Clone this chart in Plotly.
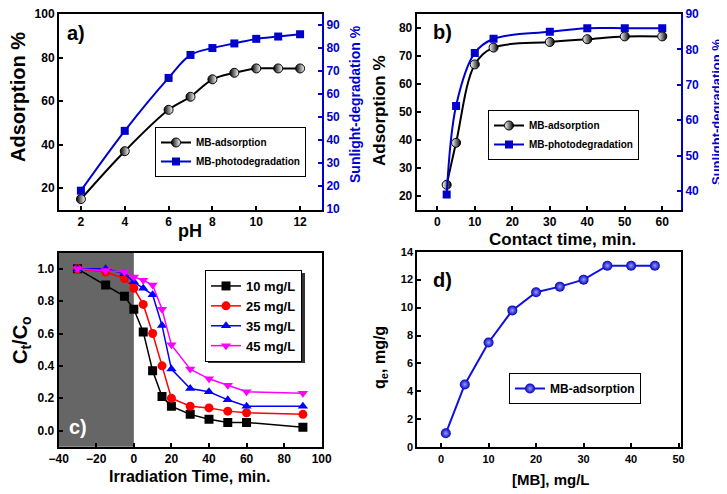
import plotly.graph_objects as go

# ---------- data ----------
ph = [2, 4, 6, 7, 8, 9, 10, 11, 12]
ph_adsorption = [15, 37, 56, 62, 70, 73, 75, 75, 75]
ph_photodeg = [18, 44, 67, 77, 80, 82, 84, 85, 86]

contact_time = [2.5, 5, 10, 15, 30, 40, 50, 60]
time_adsorption = [24, 39, 67, 73, 75, 76, 77, 77]
time_photodeg = [39, 64, 79, 83, 85, 86, 86, 86]

irr_time = [-30, -15, -5, 0, 5, 10, 15, 20, 30, 40, 50, 60, 90]
c_series_names = ["10 mg/L", "25 mg/L", "35 mg/L", "45 mg/L"]
c_10 = [1.0, 0.90, 0.83, 0.75, 0.61, 0.37, 0.21, 0.15, 0.10, 0.07, 0.05, 0.05, 0.02]
c_25 = [1.0, 0.98, 0.94, 0.88, 0.78, 0.60, 0.40, 0.20, 0.15, 0.14, 0.12, 0.11, 0.10]
c_35 = [1.0, 1.0, 0.97, 0.92, 0.88, 0.84, 0.65, 0.38, 0.26, 0.24, 0.19, 0.15, 0.15]
c_45 = [1.0, 0.99, 0.98, 0.95, 0.93, 0.90, 0.75, 0.53, 0.38, 0.32, 0.28, 0.24, 0.23]

mb_conc = [1, 5, 10, 15, 20, 25, 30, 35, 40, 45]
qe = [1.0, 4.5, 7.5, 9.8, 11.1, 11.5, 12.0, 13.0, 13.0, 13.0]

# ---------- styling ----------
# the page adds an 8 px body margin; the figure is sized so it ends at the window edge
OX, OY = 8, 8
W, H = 727 - OX, 494 - OY
BLUE = "#0000CC"
FONT = "Liberation Sans, Arial, sans-serif"

def px(x):
    return (x - OX) / W

def py(y):
    return 1 - (y - OY) / H

fig = go.Figure()

# Panel a
fig.add_trace(go.Scatter(x=ph, y=ph_adsorption, name="MB-adsorption", mode="lines+markers",
    line=dict(color="black", width=2, shape="spline"),
    marker=dict(symbol="circle", size=9, color="black", line=dict(color="black", width=1),
                gradient=dict(type="horizontal", color="white")),
    xaxis="x", yaxis="y", legend="legend"))
fig.add_trace(go.Scatter(x=ph, y=ph_photodeg, name="MB-photodegradation", mode="lines+markers",
    line=dict(color=BLUE, width=2, shape="spline"),
    marker=dict(symbol="square", size=8, color=BLUE),
    xaxis="x", yaxis="y2", legend="legend"))

# Panel b
fig.add_trace(go.Scatter(x=contact_time, y=time_adsorption, name="MB-adsorption", mode="lines+markers",
    line=dict(color="black", width=2, shape="spline"),
    marker=dict(symbol="circle", size=9, color="white", line=dict(color="black", width=1),
                gradient=dict(type="horizontal", color="black")),
    xaxis="x2", yaxis="y3", legend="legend2"))
fig.add_trace(go.Scatter(x=contact_time, y=time_photodeg, name="MB-photodegradation", mode="lines+markers",
    line=dict(color=BLUE, width=2, shape="spline"),
    marker=dict(symbol="square", size=8, color=BLUE),
    xaxis="x2", yaxis="y4", legend="legend2"))

# Panel c
c_data = [c_10, c_25, c_35, c_45]
c_colors = ["black", "#FF0000", "#0000FF", "#FF00FF"]
c_symbols = ["square", "circle", "triangle-up", "triangle-down"]
for nm, yy, col, sym in zip(c_series_names, c_data, c_colors, c_symbols):
    fig.add_trace(go.Scatter(x=irr_time, y=yy, name=nm, mode="lines+markers",
        line=dict(color=col, width=1.5),
        marker=dict(symbol=sym, size=9, color=col),
        xaxis="x3", yaxis="y5", legend="legend3"))

# Panel d
fig.add_trace(go.Scatter(x=mb_conc, y=qe, name="MB-adsorption", mode="lines+markers",
    line=dict(color="#1111DD", width=2),
    marker=dict(symbol="circle", size=10, color="#0000BB",
                gradient=dict(type="radial", color="#9999FF")),
    xaxis="x4", yaxis="y6", legend="legend4"))

# ---------- axes ----------
tickfont = dict(family=FONT, size=12, color="black", weight="bold")
base_ax = dict(showgrid=False, zeroline=False, showline=True, linecolor="black", linewidth=2,
               ticks="inside", ticklen=4, tickwidth=1.5, tickcolor="black", tickfont=tickfont,
               automargin=False, ticklabeloverflow="allow")

top_dom = [py(210), py(14)]
dom_a_x = [px(59), px(322)]
dom_b_x = [px(416.7), px(681)]
dom_c_x = [px(58.7), px(321.7)]
dom_d_x = [px(417.3), px(681)]
dom_c_y = [py(446.7), py(252.7)]
dom_d_y = [py(447.3), py(251.7)]

fig.update_layout(
    xaxis=dict(base_ax, domain=dom_a_x, anchor="y", range=[1, 13], dtick=2, tick0=0, mirror=True),
    yaxis=dict(base_ax, domain=top_dom, anchor="x", range=[10, 100], dtick=20, tick0=0, mirror=False),
    yaxis2=dict(base_ax, overlaying="y", side="right", anchor="x", range=[9.6, 94.8], dtick=10, tick0=0,
                linecolor=BLUE, tickcolor=BLUE, tickfont=dict(tickfont, color=BLUE)),
    xaxis2=dict(base_ax, domain=dom_b_x, anchor="y3", range=[-5.5, 65], dtick=10, tick0=0, mirror=True),
    yaxis3=dict(base_ax, domain=top_dom, anchor="x2", range=[15, 85], dtick=10, tick0=0, mirror=False),
    yaxis4=dict(base_ax, overlaying="y3", side="right", anchor="x2", range=[34.6, 90], dtick=10, tick0=0,
                linecolor=BLUE, tickcolor=BLUE, tickfont=dict(tickfont, color=BLUE)),
    xaxis3=dict(base_ax, domain=dom_c_x, anchor="y5", range=[-40, 100], dtick=20, tick0=0, mirror=True),
    yaxis5=dict(base_ax, domain=dom_c_y, anchor="x3", range=[-0.1, 1.1], dtick=0.2, tick0=0,
                tickformat=".1f", mirror=True),
    xaxis4=dict(base_ax, domain=dom_d_x, anchor="y6", range=[-5, 50.5], dtick=10, tick0=0, mirror=True,
                tickfont=dict(tickfont, size=11)),
    yaxis6=dict(base_ax, domain=dom_d_y, anchor="x4", range=[0, 14], dtick=2, tick0=0, mirror=True,
                tickfont=dict(tickfont, size=11)),
)

# ---------- legends (box in reference pixels: left, top, width, height, font size) ----------
legend_boxes = {
    "legend": (155, 127, 148, 43, 10),
    "legend2": (488, 110, 148, 43, 10),
    "legend3": (205, 270, 97, 90, 13),
    "legend4": (509, 373, 129, 26, 12),
}

shapes = []
for key, (lx, ly, lw, lh, fs) in legend_boxes.items():
    fig.update_layout({key: dict(x=px(lx), y=py(ly), xanchor="left", yanchor="top", bgcolor="white",
                                 bordercolor="black", borderwidth=1,
                                 font=dict(family=FONT, size=fs, color="black", weight="bold"),
                                 tracegroupgap=0, itemwidth=30)})
    shapes.append(dict(type="rect", xref="paper", yref="paper",
                       x0=px(lx + 3), x1=px(lx + lw + 3), y0=py(ly + lh + 3), y1=py(ly + 3),
                       fillcolor="#333333", line=dict(width=0), layer="above"))

# dark region in panel c
shapes.append(dict(type="rect", xref="x3", yref="y5 domain", x0=-40, x1=0, y0=0, y1=1,
                   fillcolor="#666666", line=dict(width=0), layer="below"))

# ---------- annotations ----------
def ann(text, x, y, size, color="black", angle=0, xanchor="center"):
    return dict(text=text, x=px(x), y=py(y), xref="paper", yref="paper", showarrow=False,
                xanchor=xanchor, yanchor="middle", textangle=angle,
                font=dict(family=FONT, size=size, color=color, weight="bold"))

annotations = [
    ann("a)", 65, 33, 20, xanchor="left"),
    ann("b)", 431, 32, 20, xanchor="left"),
    ann("c)", 67, 427, 20, color="white", xanchor="left"),
    ann("d)", 431, 280, 20, xanchor="left"),
    ann("Adsorption %", 18, 97, 20, angle=-90),
    ann("pH", 190, 231, 18),
    ann("Sunlight-degradation %", 355, 104, 14, color=BLUE, angle=-90),
    ann("Adsorption %", 380, 111, 17, angle=-90),
    ann("Contact time, min.", 562, 239, 17),
    ann("Sunlight-degradation %", 716, 112, 13, color=BLUE, angle=-90),
    ann("C<sub>t</sub>/C<sub>o</sub>", 21, 340, 20, angle=-90),
    ann("Irradiation Time, min.", 190, 476, 16),
    ann("q<sub>e</sub>, mg/g", 380, 358, 16, angle=-90),
    ann("[MB], mg/L", 550, 479, 15),
]

fig.update_layout(
    width=W, height=H, margin=dict(l=0, r=0, t=0, b=0, autoexpand=False),
    paper_bgcolor="white", plot_bgcolor="white",
    shapes=shapes, annotations=annotations, showlegend=True,
)

fig.write_html("out.html")
